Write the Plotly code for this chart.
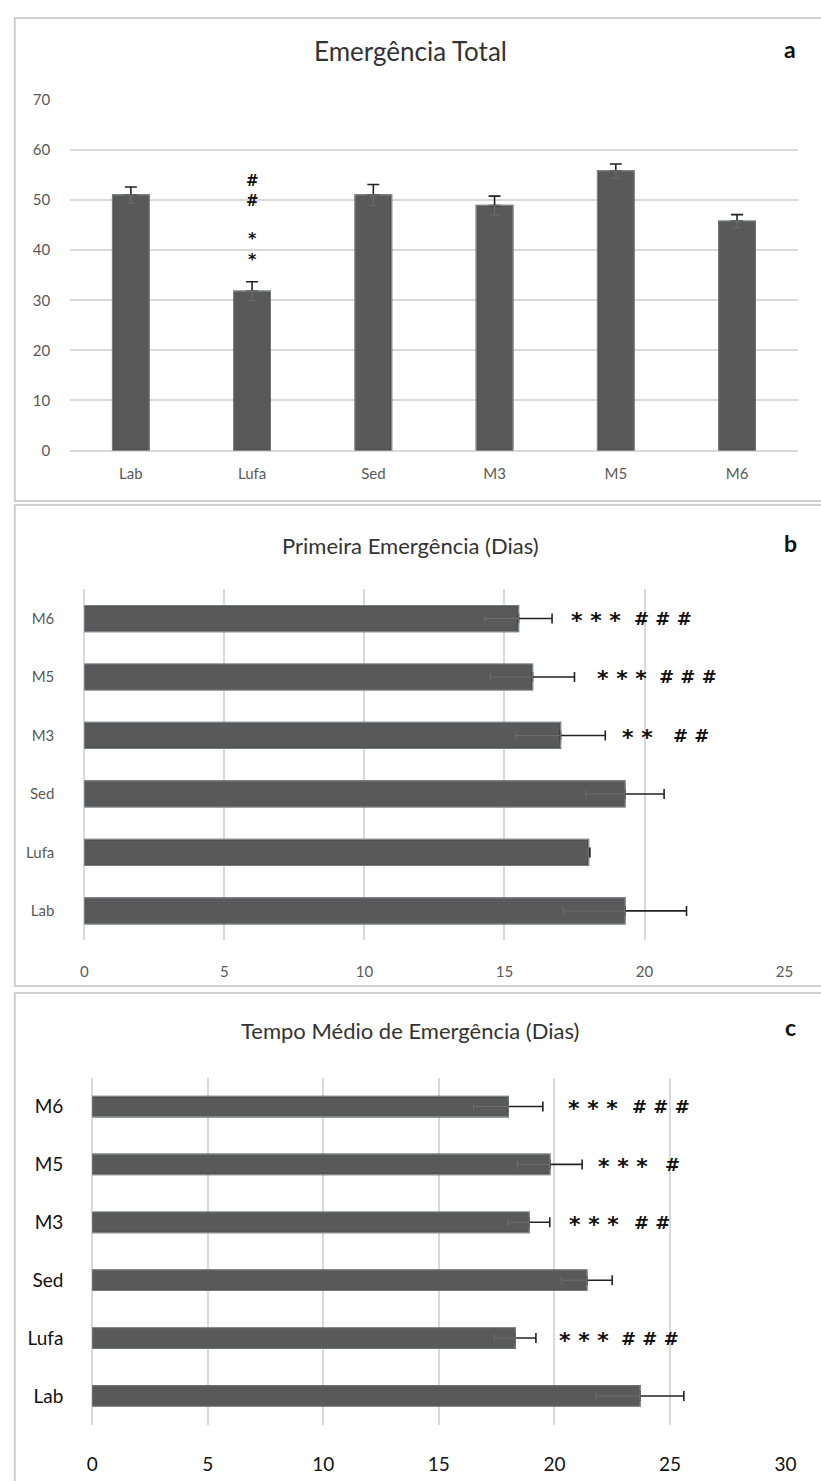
import plotly.graph_objects as go

# ---- data -------------------------------------------------------------
groups = ["Lab", "Lufa", "Sed", "M3", "M5", "M6"]

total_emergence = [51, 31.8, 51, 48.9, 55.8, 45.8]
total_emergence_err = [1.6, 1.9, 2.1, 1.9, 1.4, 1.3]

first_emergence_days = [19.3, 18.0, 19.3, 17.0, 16.0, 15.5]
first_emergence_err = [2.2, 0.05, 1.4, 1.6, 1.5, 1.2]

mean_emergence_days = [23.7, 18.3, 21.4, 18.9, 19.8, 18.0]
mean_emergence_err = [1.9, 0.9, 1.1, 0.9, 1.4, 1.5]

# significance marks: (group, stars, hashes)
sig_first = [("M6", "* * *", "# # #"), ("M5", "* * *", "# # #"), ("M3", "* *", "# #")]
sig_mean = [("M6", "* * *", "# # #"), ("M5", "* * *", "#"),
            ("M3", "* * *", "# #"), ("Lufa", "* * *", "# # #")]
sig_total = ("Lufa", "*<br>*", "#<br>#")

# ---- styling ----------------------------------------------------------
W, H = 821, 1481
FONT = "Lato"
BAR_FILL = "#595959"
BAR_EDGE = "#2f2f2f"
GRID = "#d9d9d9"
TICK_COL = "#595959"


def fy(px):
    return 1 - px / H


def fx(px):
    return px / W


fig = go.Figure()

# panel a: vertical bars
fig.add_trace(go.Bar(
    x=groups, y=total_emergence, width=0.3,
    marker=dict(color=BAR_FILL, line=dict(color=BAR_EDGE, width=1.5)),
    error_y=dict(type="data", array=total_emergence_err,
                 arrayminus=[0] * len(groups), symmetric=False,
                 color="#222222", thickness=1.6, width=6),
    xaxis="x", yaxis="y", showlegend=False,
))
fig.add_trace(go.Bar(
    x=groups, y=total_emergence, width=0.3,
    marker=dict(color="rgba(0,0,0,0)"),
    error_y=dict(type="data", array=[0] * len(groups),
                 arrayminus=total_emergence_err, symmetric=False,
                 color="#6e6e6e", thickness=1, width=4),
    xaxis="x", yaxis="y", showlegend=False,
))

# panels b and c: horizontal bars
for vals, errs, ax, thick in [
    (first_emergence_days, first_emergence_err, "2", 0.44),
    (mean_emergence_days, mean_emergence_err, "3", 0.35),
]:
    fig.add_trace(go.Bar(
        y=groups, x=vals, orientation="h", width=thick,
        marker=dict(color=BAR_FILL, line=dict(color=BAR_EDGE, width=1.5)),
        error_x=dict(type="data", array=errs, arrayminus=[0] * len(groups),
                     symmetric=False, color="#222222", thickness=1.6, width=5),
        xaxis="x" + ax, yaxis="y" + ax, showlegend=False,
    ))
    fig.add_trace(go.Bar(
        y=groups, x=vals, orientation="h", width=thick,
        marker=dict(color="rgba(0,0,0,0)"),
        error_x=dict(type="data", array=[0] * len(groups), arrayminus=errs,
                     symmetric=False, color="#6e6e6e", thickness=1, width=4),
        xaxis="x" + ax, yaxis="y" + ax, showlegend=False,
    ))

small_tick = dict(family=FONT, size=15, color=TICK_COL)
big_tick = dict(family=FONT, size=19, color="#111111")
hidden_tick = dict(ticks="outside", tickcolor="rgba(0,0,0,0)")

fig.update_layout(
    width=W, height=H,
    margin=dict(l=0, r=0, t=0, b=0),
    paper_bgcolor="white", plot_bgcolor="white",
    barmode="overlay",
    font=dict(family=FONT),
    xaxis=dict(domain=[fx(65.6), fx(808.4)], anchor="y",
               categoryorder="array", categoryarray=groups,
               showgrid=False, showline=False, tickfont=small_tick,
               ticklen=9, **hidden_tick),
    yaxis=dict(domain=[fy(446), fy(91)], anchor="x", range=[0, 70],
               dtick=10, showgrid=True, gridcolor=GRID, gridwidth=1.5,
               zeroline=True, zerolinecolor=GRID, zerolinewidth=1.5,
               showline=False, tickfont=small_tick, ticklen=16, **hidden_tick),
    xaxis2=dict(domain=[fx(80), fx(795)], anchor="y2", range=[0, 25],
                dtick=5, showgrid=True, gridcolor=GRID, gridwidth=1.5,
                zeroline=True, zerolinecolor=GRID, zerolinewidth=1.5,
                showline=False, tickfont=small_tick, ticklen=18, **hidden_tick),
    yaxis2=dict(domain=[fy(941.6), fy(586.4)], anchor="x2",
                categoryorder="array", categoryarray=groups,
                showgrid=False, showline=False, tickfont=small_tick,
                ticklen=26, **hidden_tick),
    xaxis3=dict(domain=[fx(88), fx(796)], anchor="y3", range=[0, 30],
                dtick=5, showgrid=True, gridcolor=GRID, gridwidth=1.5,
                zeroline=True, zerolinecolor=GRID, zerolinewidth=1.5,
                showline=False, tickfont=big_tick, ticklen=22, **hidden_tick),
    yaxis3=dict(domain=[fy(1432.3), fy(1080.7)], anchor="x3",
                categoryorder="array", categoryarray=groups,
                showgrid=False, showline=False, tickfont=big_tick,
                ticklen=24, **hidden_tick),
)

# panel frames
for top, bot in [(8, 497), (501, 988), (995, 1495)]:
    fig.add_shape(type="rect", xref="paper", yref="paper",
                  x0=fx(9), x1=fx(840), y0=fy(bot), y1=fy(top),
                  line=dict(color="#cfcfcf", width=2), layer="below")

# titles and panel letters
titles = [("Emergência Total", 41, 26, "a", 39),
          ("Primeira Emergência (Dias)", 542, 22, "b", 540),
          ("Tempo Médio de Emergência (Dias)", 1033, 22, "c", 1030)]
for text, ty, size, letter, ly in titles:
    fig.add_annotation(text=text, xref="paper", yref="paper",
                       x=fx(413), y=fy(ty), xanchor="center", yanchor="middle",
                       showarrow=False,
                       font=dict(family=FONT, size=size, color="#333333"))
    fig.add_annotation(text=letter, xref="paper", yref="paper",
                       x=fx(801), y=fy(ly), xanchor="center", yanchor="middle",
                       showarrow=False,
                       font=dict(family=FONT, size=23, color="#111111",
                                 weight="bold"))

HASH_FONT = dict(family="DejaVu Sans", size=18, color="#111111", weight="bold")
STAR_FONT = dict(family="DejaVu Sans", size=22, color="#111111", weight="bold")

# panel a marks stacked above Lufa (two lines each)
g, stars, hashes = sig_total
i = groups.index(g)
top = total_emergence[i] + total_emergence_err[i]
fig.add_annotation(text=hashes, x=g, y=top + 18.1, xref="x", yref="y",
                   yanchor="middle", showarrow=False,
                   font=dict(HASH_FONT, size=15))
fig.add_annotation(text=stars, x=g, y=top + 6.7, xref="x", yref="y",
                   yanchor="middle", yshift=-1, showarrow=False,
                   font=dict(STAR_FONT, size=16))


def add_marks(marks, vals, errs, ax, star_gap, hash_gap):
    for g, stars, hashes in marks:
        i = groups.index(g)
        end = vals[i] + errs[i]
        fig.add_annotation(text=stars, x=end + star_gap[g], y=g,
                           xref="x" + ax, yref="y" + ax, xanchor="left",
                           yanchor="middle", yshift=-2,
                           showarrow=False, font=STAR_FONT)
        fig.add_annotation(text=hashes.replace(" ", "\u00a0"),
                           x=end + hash_gap[g], y=g,
                           xref="x" + ax, yref="y" + ax, xanchor="left",
                           yanchor="middle", showarrow=False,
                           font=HASH_FONT)


add_marks(sig_first, first_emergence_days, first_emergence_err, "2",
          {"M6": 0.6, "M5": 0.74, "M3": 0.52},
          {"M6": 2.85, "M5": 2.95, "M3": 2.35})
add_marks(sig_mean, mean_emergence_days, mean_emergence_err, "3",
          {"M6": 1.0, "M5": 0.6, "M3": 0.75, "Lufa": 0.9},
          {"M6": 3.75, "M5": 3.5, "M3": 3.55, "Lufa": 3.6})

fig.write_html("out.html",
               post_script="document.body.style.margin='0';"
                           "document.body.style.overflow='hidden';")
